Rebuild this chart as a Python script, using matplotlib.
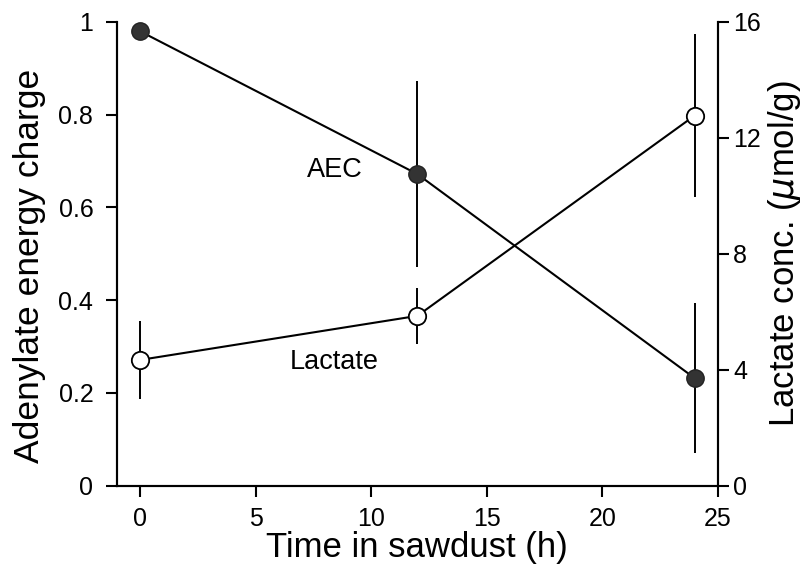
import matplotlib
matplotlib.use("Agg")
import matplotlib.pyplot as plt

plt.rcParams["font.family"] = ["Liberation Sans", "DejaVu Sans"]

# Data
time_h = [0, 12, 24]
aec = [0.98, 0.672, 0.232]
aec_err = [0.0, 0.20, 0.162]
lactate = [4.34, 5.86, 12.77]
lactate_err = [1.35, 0.96, 2.80]

fig = plt.figure(figsize=(8.05, 5.65), dpi=100)
ax = fig.add_axes([0.1453, 0.1403, 0.7463, 0.8208])
ax2 = ax.twinx()

# AEC (left axis)
ax.errorbar(time_h, aec, yerr=aec_err, fmt="none", ecolor="black", elinewidth=1.4, capsize=0)
ax.plot(time_h, aec, color="black", lw=1.5, marker="o", markersize=12.5,
        markerfacecolor="#333333", markeredgecolor="#222222")

# Lactate (right axis)
ax2.errorbar(time_h, lactate, yerr=lactate_err, fmt="none", ecolor="black", elinewidth=1.4, capsize=0)
ax2.plot(time_h, lactate, color="black", lw=1.5, marker="o", markersize=12.5,
         markerfacecolor="white", markeredgecolor="black", markeredgewidth=1.3)

ax.text(8.42, 0.68, "AEC", fontsize=19.5, ha="center", va="center")
ax.text(8.42, 0.267, "Lactate", fontsize=19.5, ha="center", va="center")

ax.set_xlim(-1, 25)
ax.set_ylim(0, 1)
ax2.set_ylim(0, 16)
ax.set_xticks([0, 5, 10, 15, 20, 25])
ax.set_yticks([0, 0.2, 0.4, 0.6, 0.8, 1])
ax.set_yticklabels(["0", "0.2", "0.4", "0.6", "0.8", "1"])
ax2.set_yticks([0, 4, 8, 12, 16])

for a in (ax, ax2):
    a.spines["top"].set_visible(False)
    for s in a.spines.values():
        s.set_linewidth(1.5)
    a.tick_params(direction="out", length=8, width=1.5, labelsize=18)
ax.tick_params(axis="x", pad=7)
ax.tick_params(axis="y", pad=9)
ax2.tick_params(axis="y", pad=3)

ax.set_xlabel("Time in sawdust (h)", fontsize=25, labelpad=0)
ax.set_ylabel("Adenylate energy charge", fontsize=25.5)
ax.yaxis.set_label_coords(-0.118, 0.475)
ax2.set_ylabel(r"Lactate conc. ($\mu$mol/g)", fontsize=25, labelpad=4)

fig.savefig("out.png", dpi=100, facecolor="white")
